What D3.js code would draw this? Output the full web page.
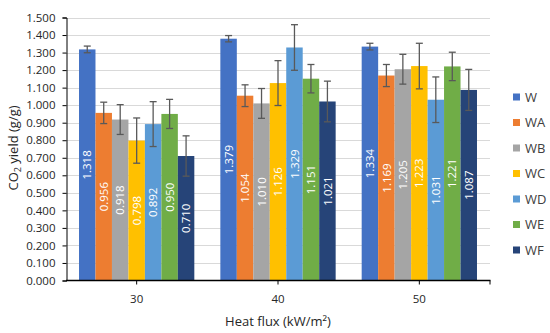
<!DOCTYPE html>
<html>
<head>
  <meta charset="utf-8">
  <script src="https://d3js.org/d3.v7.min.js"></script>
  <style>
    body { margin: 0; background: #fff; }
    text { font-family: "Open Sans", sans-serif; }
  </style>
</head>
<body>
  <div id="chart"></div>
  <script>
    // data
    var groups = ['30', '40', '50'];
    var series = ['W', 'WA', 'WB', 'WC', 'WD', 'WE', 'WF'];
    var colors = ['#4472C4', '#ED7D31', '#A5A5A5', '#FFC000', '#5B9BD5', '#70AD47', '#264478'];
    var values = {
      W:  [1.318, 1.379, 1.334],
      WA: [0.956, 1.054, 1.169],
      WB: [0.918, 1.010, 1.205],
      WC: [0.798, 1.126, 1.223],
      WD: [0.892, 1.329, 1.031],
      WE: [0.950, 1.151, 1.221],
      WF: [0.710, 1.021, 1.087]
    };
    var errors = {
      W:  [0.019, 0.018, 0.019],
      WA: [0.061, 0.062, 0.063],
      WB: [0.085, 0.085, 0.085],
      WC: [0.129, 0.128, 0.130],
      WD: [0.128, 0.130, 0.130],
      WE: [0.083, 0.081, 0.081],
      WF: [0.115, 0.116, 0.117]
    };
    var yTicks = d3.range(0, 16).map(function(i) { return i / 10; });

    var width = 550, height = 333;
    var svg = d3.select('#chart').append('svg')
      .attr('width', width)
      .attr('height', height);

    var x0 = d3.scaleBand().domain(groups).range([66, 490]);
    var x1 = d3.scaleBand().domain(series).range([0, x0.bandwidth()])
      .paddingInner(0).paddingOuter(0.79);
    var y = d3.scaleLinear().domain([0, 1.5]).range([280.5, 17.5]);

    // gridlines
    svg.append('g')
      .selectAll('line')
      .data(yTicks.slice(1))
      .enter().append('line')
        .attr('x1', 66).attr('x2', 490)
        .attr('y1', function(d) { return Math.round(y(d)) + 0.5; })
        .attr('y2', function(d) { return Math.round(y(d)) + 0.5; })
        .attr('stroke', '#d9d9d9')
        .attr('stroke-width', 1);

    // flatten rows
    var rows = [];
    series.forEach(function(s, si) {
      groups.forEach(function(g, gi) {
        rows.push({ s: s, g: g, v: values[s][gi], e: errors[s][gi], c: colors[si] });
      });
    });

    var bars = svg.append('g');
    bars.selectAll('rect')
      .data(rows)
      .enter().append('rect')
        .attr('x', function(d) { return x0(d.g) + x1(d.s); })
        .attr('y', function(d) { return y(d.v); })
        .attr('width', x1.bandwidth())
        .attr('height', function(d) { return y(0) - y(d.v); })
        .attr('fill', function(d) { return d.c; });

    // value labels, centered inside the bars
    bars.selectAll('text')
      .data(rows)
      .enter().append('text')
        .attr('transform', function(d) {
          var cx = x0(d.g) + x1(d.s) + x1.bandwidth() / 2;
          var cy = (y(d.v) + y(0)) / 2;
          return 'translate(' + cx + ',' + cy + ') rotate(-90)';
        })
        .attr('text-anchor', 'middle')
        .attr('dy', '0.36em')
        .attr('fill', '#fff')
        .style('font-size', '11.5px')
        .text(function(d) { return d.v.toFixed(3); });

    // error bars
    var err = svg.append('g')
      .attr('stroke', '#595959')
      .attr('stroke-width', 1.3);
    rows.forEach(function(d) {
      var cx = x0(d.g) + x1(d.s) + x1.bandwidth() / 2;
      var top = y(d.v + d.e), bot = y(d.v - d.e);
      err.append('line').attr('x1', cx).attr('x2', cx).attr('y1', top).attr('y2', bot);
      err.append('line').attr('x1', cx - 3.5).attr('x2', cx + 3.5).attr('y1', top).attr('y2', top);
      err.append('line').attr('x1', cx - 3.5).attr('x2', cx + 3.5).attr('y1', bot).attr('y2', bot);
    });

    // y axis
    var yAxis = svg.append('g')
      .attr('transform', 'translate(66.5,0)')
      .call(d3.axisLeft(y).tickValues(yTicks).tickFormat(d3.format('.3f')).tickSize(4).tickPadding(7));
    yAxis.select('.domain').attr('stroke', '#000');
    yAxis.selectAll('.tick line').attr('stroke', '#000');
    yAxis.selectAll('.tick text')
      .attr('fill', '#262626')
      .style('font-size', '11.5px')
      .style('font-family', '"Open Sans", sans-serif');

    // x axis
    var xAxis = svg.append('g')
      .attr('transform', 'translate(0,280.5)');
    xAxis.append('line')
      .attr('x1', 66).attr('x2', 490.5)
      .attr('stroke', '#000').attr('stroke-width', 1.3);
    xAxis.selectAll('line.tk')
      .data(groups)
      .enter().append('line')
        .attr('class', 'tk')
        .attr('x1', function(d) { return x0(d) + x0.bandwidth() / 2; })
        .attr('x2', function(d) { return x0(d) + x0.bandwidth() / 2; })
        .attr('y1', 0).attr('y2', 4)
        .attr('stroke', '#000');
    xAxis.append('line')
      .attr('x1', 490).attr('x2', 490).attr('y1', 0).attr('y2', 4)
      .attr('stroke', '#000');
    xAxis.selectAll('text')
      .data(groups)
      .enter().append('text')
        .attr('x', function(d) { return x0(d) + x0.bandwidth() / 2; })
        .attr('y', 22)
        .attr('text-anchor', 'middle')
        .attr('fill', '#262626')
        .style('font-size', '11.5px')
        .text(function(d) { return d; });

    // axis titles
    svg.append('text')
      .attr('x', 278)
      .attr('y', 326)
      .attr('text-anchor', 'middle')
      .attr('fill', '#262626')
      .style('font-size', '13px')
      .text('Heat flux (kW/m²)');

    var yt = svg.append('text')
      .attr('transform', 'translate(18,148) rotate(-90)')
      .attr('text-anchor', 'middle')
      .attr('fill', '#262626')
      .style('font-size', '13px');
    yt.append('tspan').text('CO');
    yt.append('tspan').attr('dy', 3).style('font-size', '9px').text('2');
    yt.append('tspan').attr('dy', -3).text(' yield (g/g)');

    // legend
    var legend = svg.append('g');
    var items = legend.selectAll('g')
      .data(series)
      .enter().append('g')
        .attr('transform', function(d, i) { return 'translate(513,' + (97 + i * 25.5) + ')'; });
    items.append('rect')
      .attr('x', 0).attr('y', -3.5)
      .attr('width', 7).attr('height', 7)
      .attr('fill', function(d, i) { return colors[i]; });
    items.append('text')
      .attr('x', 12)
      .attr('dy', '0.36em')
      .attr('fill', '#404040')
      .style('font-size', '13px')
      .text(function(d) { return d; });
  </script>
</body>
</html>
